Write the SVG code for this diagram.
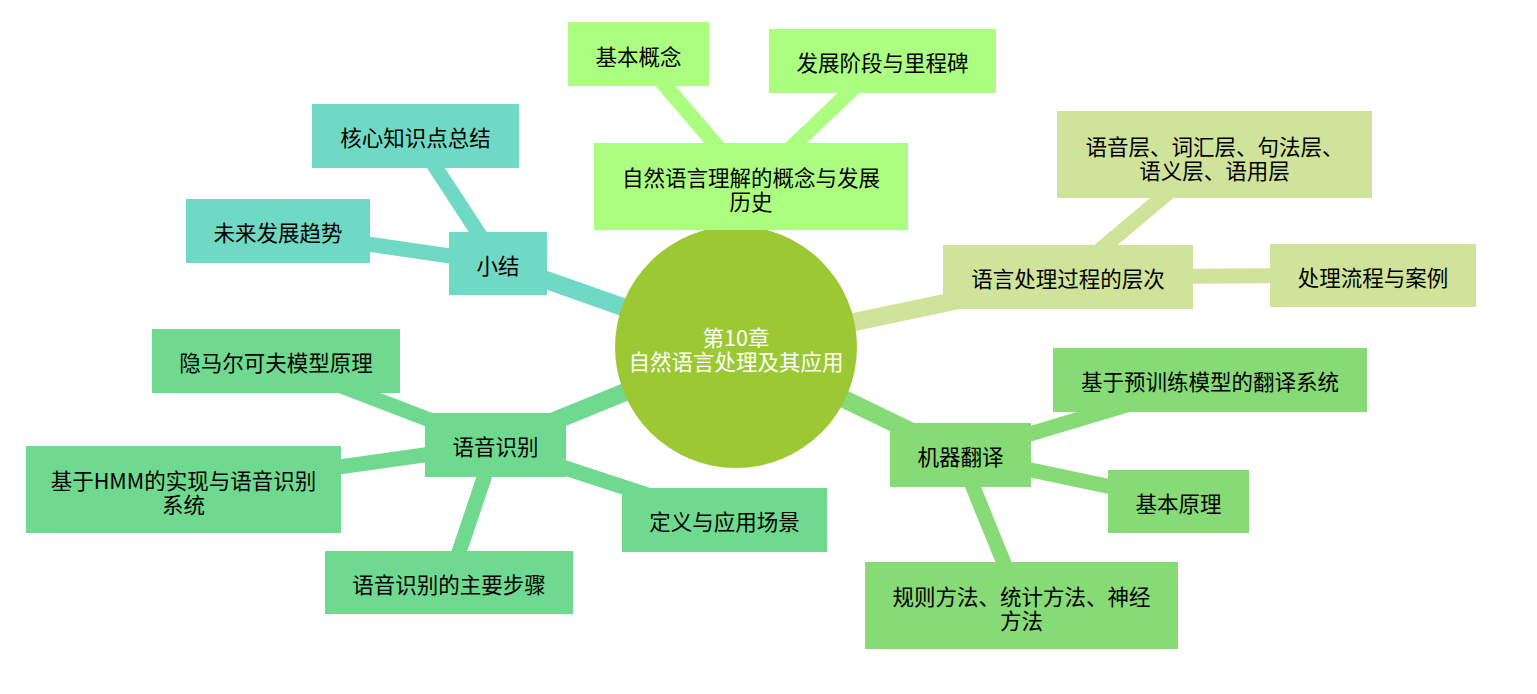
<svg xmlns="http://www.w3.org/2000/svg" width="1537" height="694" viewBox="0 0 1537 694">
<style>
text{font-family:"Noto Sans CJK SC","Noto Sans",sans-serif;font-size:21.5px;fill:#000;text-anchor:middle;dominant-baseline:central}
.w{fill:#fff}
.c1{fill:#acfe80}.c2{fill:#70d9c4}.c3{fill:#6fd98f}.c4{fill:#cfe39a}.c5{fill:#86db76}
.l{fill:none;stroke-linecap:butt}
.p{stroke-width:18}.s{stroke-width:15}
.k1{stroke:#acfe80}.k2{stroke:#70d9c4}.k3{stroke:#6fd98f}.k4{stroke:#cfe39a}.k5{stroke:#86db76}
</style>
<rect width="1537" height="694" fill="#fff"/>
<g id="connectors">
<line class="l p k1" x1="736" y1="347" x2="751" y2="186"/>
<line class="l s k1" x1="751" y1="186" x2="638" y2="54"/>
<line class="l s k1" x1="751" y1="186" x2="882" y2="61"/>
<line class="l p k2" x1="736" y1="347" x2="498" y2="263"/>
<line class="l s k2" x1="498" y1="263" x2="415" y2="136"/>
<line class="l s k2" x1="498" y1="263" x2="278" y2="231"/>
<line class="l p k3" x1="736" y1="347" x2="495" y2="445"/>
<line class="l s k3" x1="495" y1="445" x2="276" y2="361"/>
<line class="l s k3" x1="495" y1="445" x2="183" y2="489"/>
<line class="l s k3" x1="495" y1="445" x2="449" y2="582"/>
<line class="l s k3" x1="495" y1="445" x2="724" y2="520"/>
<line class="l p k4" x1="736" y1="347" x2="1068" y2="277"/>
<line class="l s k4" x1="1068" y1="277" x2="1214" y2="154"/>
<line class="l s k4" x1="1068" y1="277" x2="1373" y2="275"/>
<line class="l p k5" x1="736" y1="347" x2="960" y2="455"/>
<line class="l s k5" x1="960" y1="455" x2="1210" y2="380"/>
<line class="l s k5" x1="960" y1="455" x2="1178" y2="501"/>
<line class="l s k5" x1="960" y1="455" x2="1021" y2="605"/>
</g>
<g id="n-center">
<circle cx="736" cy="347" r="121" fill="#9cc933"/>
<text class="w" x="736" y="336"><tspan x="736" y="336">第10章</tspan><tspan x="736" y="360">自然语言处理及其应用</tspan></text>
</g>
<g id="n-nlu"><rect class="c1" x="594" y="143" width="314" height="87"/><text x="751" y="176"><tspan x="751" y="176">自然语言理解的概念与发展</tspan><tspan x="751" y="200">历史</tspan></text></g>
<g id="n-basic"><rect class="c1" x="568" y="22" width="141" height="64"/><text x="638.5" y="55">基本概念</text></g>
<g id="n-stage"><rect class="c1" x="769" y="29" width="227" height="64"/><text x="882.5" y="61">发展阶段与里程碑</text></g>
<g id="n-summary"><rect class="c2" x="449" y="232" width="98" height="63"/><text x="498" y="264">小结</text></g>
<g id="n-core"><rect class="c2" x="312" y="104" width="207" height="64"/><text x="415.5" y="136">核心知识点总结</text></g>
<g id="n-future"><rect class="c2" x="186" y="199" width="184" height="64"/><text x="278" y="231">未来发展趋势</text></g>
<g id="n-asr"><rect class="c3" x="425" y="413" width="141" height="64"/><text x="495.5" y="445">语音识别</text></g>
<g id="n-hmm"><rect class="c3" x="152" y="329" width="248" height="64"/><text x="276" y="361">隐马尔可夫模型原理</text></g>
<g id="n-hmmimpl"><rect class="c3" x="26" y="446" width="315" height="87"/><text x="183.5" y="479"><tspan x="183.5" y="479">基于HMM的实现与语音识别</tspan><tspan x="183.5" y="503">系统</tspan></text></g>
<g id="n-steps"><rect class="c3" x="325" y="551" width="248" height="63"/><text x="449" y="583">语音识别的主要步骤</text></g>
<g id="n-def"><rect class="c3" x="622" y="488" width="205" height="64"/><text x="724.5" y="520">定义与应用场景</text></g>
<g id="n-levels"><rect class="c4" x="943" y="245" width="250" height="64"/><text x="1068" y="277">语言处理过程的层次</text></g>
<g id="n-layers"><rect class="c4" x="1057" y="111" width="315" height="87"/><text x="1214.5" y="145"><tspan x="1214.5" y="145">语音层、词汇层、句法层、</tspan><tspan x="1214.5" y="169">语义层、语用层</tspan></text></g>
<g id="n-flow"><rect class="c4" x="1270" y="244" width="206" height="63"/><text x="1373" y="276">处理流程与案例</text></g>
<g id="n-mt"><rect class="c5" x="890" y="423" width="141" height="64"/><text x="960.5" y="455">机器翻译</text></g>
<g id="n-pretrain"><rect class="c5" x="1053" y="348" width="314" height="64"/><text x="1210" y="380">基于预训练模型的翻译系统</text></g>
<g id="n-principle"><rect class="c5" x="1108" y="470" width="141" height="63"/><text x="1178.5" y="502">基本原理</text></g>
<g id="n-methods"><rect class="c5" x="865" y="562" width="313" height="87"/><text x="1021.5" y="595"><tspan x="1021.5" y="595">规则方法、统计方法、神经</tspan><tspan x="1021.5" y="619">方法</tspan></text></g>
</svg>
